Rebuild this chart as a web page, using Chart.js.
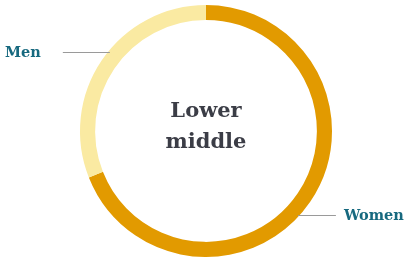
<!DOCTYPE html>
<html><head><meta charset="utf-8">
<script src="https://cdn.jsdelivr.net/npm/chart.js@4"></script>
<style>html,body{margin:0;padding:0;background:#fff;}#w{width:405px;height:258px;}</style>
</head><body><div id="w"><canvas id="c"></canvas></div>
<script>
const categories = ["Women", "Men"];
const shares = [69, 31];
const colors = ["#E29A00", "#FAEAA2"];
const centerLines = ["Lower", "middle"];
const labelY = [215, 52];

const labelPlugin = {
  id: 'labels',
  afterDraw(chart) {
    const ctx = chart.ctx;
    const arc = chart.getDatasetMeta(0).data[0];
    const cx = arc.x, cy = arc.y, R = arc.outerRadius;
    ctx.save();
    ctx.fillStyle = '#3B3D46';
    ctx.font = 'bold 21px "DejaVu Serif"';
    ctx.textAlign = 'center';
    ctx.textBaseline = 'alphabetic';
    ctx.fillText(centerLines[0], cx, cy - 14);
    ctx.fillText(centerLines[1], cx, cy + 17);
    ctx.font = 'bold 14.5px "DejaVu Serif"';
    ctx.fillStyle = '#17697F';
    ctx.strokeStyle = '#9a9a9a';
    ctx.lineWidth = 1;
    categories.forEach((cat, i) => {
      const y = labelY[i];
      const dx = Math.sqrt(R * R - (y - cy) * (y - cy));
      const right = (y > cy);
      ctx.beginPath();
      if (right) {
        ctx.moveTo(cx + dx - 2, y + 0.5); ctx.lineTo(cx + dx + 36, y + 0.5);
        ctx.stroke();
        ctx.textAlign = 'left';
        ctx.fillText(cat, cx + dx + 44, y + 5);
      } else {
        ctx.moveTo(cx - dx + 2, y + 0.5); ctx.lineTo(cx - dx - 45, y + 0.5);
        ctx.stroke();
        ctx.textAlign = 'left';
        ctx.fillText(cat, 5, y + 5);
      }
    });
    ctx.restore();
  }
};

new Chart(document.getElementById('c'), {
  type: 'doughnut',
  data: { labels: categories, datasets: [{ data: shares, backgroundColor: colors, borderWidth: 0, hoverOffset: 0 }] },
  options: {
    responsive: true, maintainAspectRatio: false, animation: false,
    cutout: '88%',
    layout: { padding: { left: 10, right: 3, top: 5, bottom: 1 } },
    plugins: { legend: { display: false }, tooltip: { enabled: false } },
    events: []
  },
  plugins: [labelPlugin]
});
</script></body></html>
